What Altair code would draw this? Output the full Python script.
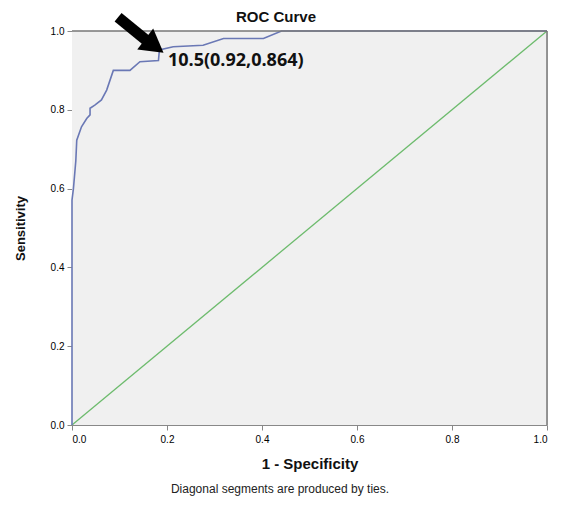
import altair as alt
import pandas as pd

# ROC curve points (1 - specificity, sensitivity)
fpr = [0.0, 0.0, 0.003, 0.008, 0.010, 0.020, 0.031, 0.038, 0.038, 0.048, 0.062,
       0.073, 0.087, 0.122, 0.143, 0.182, 0.184, 0.213, 0.276, 0.319, 0.403, 0.441, 1.0]
tpr = [0.0, 0.571, 0.600, 0.670, 0.723, 0.757, 0.778, 0.787, 0.804, 0.812, 0.825,
       0.850, 0.900, 0.900, 0.922, 0.925, 0.952, 0.960, 0.964, 0.981, 0.981, 1.0, 1.0]
ref_x = [0.0, 1.0]
ref_y = [0.0, 1.0]
ticks = [0.0, 0.2, 0.4, 0.6, 0.8, 1.0]
annot_text = "10.5(0.92,0.864)"

W, H = 475, 394
FONT = "Liberation Sans"

roc = pd.DataFrame({"x": fpr, "y": tpr, "o": list(range(len(fpr)))})
diag = pd.DataFrame({"x": ref_x, "y": ref_y})

xs = alt.Scale(domain=[0, 1], nice=False)
ys = alt.Scale(domain=[0, 1], nice=False)

xaxis = alt.Axis(values=ticks, format=".1f", title="1 - Specificity", grid=False,
                 titleFontSize=15, titleFontWeight="bold", titleFont=FONT, titleColor="#111",
                 titlePadding=12, labelPadding=4)
yaxis = alt.Axis(values=ticks, format=".1f", title="Sensitivity", grid=False,
                 titleFontSize=13, titleFontWeight="bold", titleFont=FONT, titleColor="#111",
                 titlePadding=23, labelPadding=3)

bg = alt.Chart(pd.DataFrame({"x": [0.0], "x2": [1.0], "y": [0.0], "y2": [1.0]})).mark_rect(
    color="#f0f0f0").encode(
    x=alt.X("x:Q", scale=xs, axis=xaxis),
    y=alt.Y("y:Q", scale=ys, axis=yaxis),
    x2="x2:Q", y2="y2:Q")

base_line = alt.Chart(diag).mark_line(color="#6dbb6d", strokeWidth=1.3).encode(
    x=alt.X("x:Q", scale=xs),
    y=alt.Y("y:Q", scale=ys),
)

curve = alt.Chart(roc).mark_line(color="#6a78b5", strokeWidth=1.6).encode(
    x=alt.X("x:Q", scale=xs),
    y=alt.Y("y:Q", scale=ys),
    order="o:Q",
)

# frame top and right
frame = pd.DataFrame({"x": [0.0, 1.0], "x2": [1.0, 1.0], "y": [1.0, 1.0], "y2": [1.0, 0.0]})
frame_rules = alt.Chart(frame).mark_rule(color="#777", strokeWidth=1.5).encode(
    x="x:Q", x2="x2:Q", y="y:Q", y2="y2:Q")

# annotation
ann = pd.DataFrame({"x": [0.202], "y": [0.924], "t": [annot_text]})
ann_text = alt.Chart(ann).mark_text(align="left", baseline="middle", fontSize=18,
                                    fontWeight="bold", font="Open Sans", color="#111").encode(
    x="x:Q", y="y:Q", text="t:N")

shaft = pd.DataFrame({"x": [0.097], "y": [1.035], "x2": [0.155], "y2": [0.978]})
arrow_shaft = alt.Chart(shaft).mark_rule(color="black", strokeWidth=11, strokeCap="butt").encode(
    x="x:Q", y="y:Q", x2="x2:Q", y2="y2:Q")
head = pd.DataFrame({"x": [0.167], "y": [0.968]})
arrow_head = alt.Chart(head).mark_point(shape="triangle", filled=True, size=700, angle=127,
                                        color="black", opacity=1).encode(x="x:Q", y="y:Q")

title = alt.Chart(pd.DataFrame({"t": ["ROC Curve"]})).mark_text(
    fontSize=15, fontWeight="bold", font=FONT, color="#111", baseline="middle").encode(
    x=alt.value(204), y=alt.value(-14), text="t:N")

footer = alt.Chart(pd.DataFrame({"t": ["Diagonal segments are produced by ties."]})).mark_text(
    fontSize=12, font=FONT, color="#222", baseline="middle").encode(
    x=alt.value(208), y=alt.value(458), text="t:N")

chart = alt.layer(bg, base_line, curve, frame_rules, ann_text, arrow_shaft, arrow_head, title, footer).properties(
    width=W, height=H,
    autosize=alt.AutoSizeParams(type="none"),
    padding={"left": 64, "top": 23, "right": 6, "bottom": 72},
).configure_view(
    strokeWidth=0
).configure_axis(
    domainColor="#444", domainWidth=1.8, tickColor="#444", tickWidth=1.5, tickSize=6,
    labelFont=FONT, labelFontSize=11, labelColor="#555",
).configure(background="white")

chart.save("out.html", embed_options={"renderer": "svg", "actions": False})
